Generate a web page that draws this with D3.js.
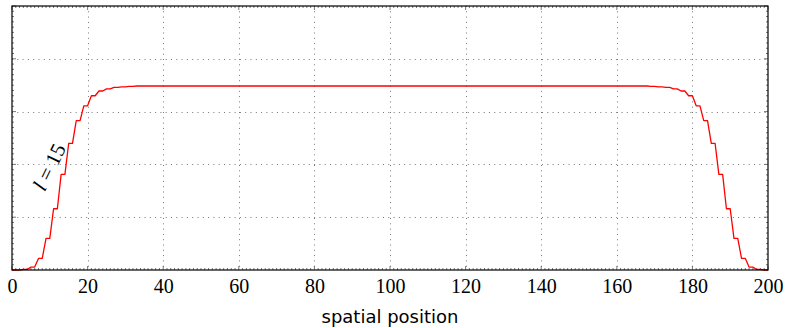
<!DOCTYPE html>
<html>
<head>
<meta charset="utf-8">
<script src="https://cdn.jsdelivr.net/npm/d3@7"></script>
<style>
  body { margin: 0; background: #fff; }
  svg { display: block; }
</style>
</head>
<body>
<div id="plot1"></div>
<script>
'use strict';

// x ticks along the bottom
const xTicks = [0, 20, 40, 60, 80, 100, 120, 140, 160, 180, 200];
// y grid levels (no labels in the reference)
const yTicks = [0, 1, 2, 3, 4, 5];
// step levels: index 0 is x = 0, index k covers x = 2k-1 and x = 2k
const stepLevels = [
    0,
    0, 0.01, 0.055, 0.22, 0.60, 1.16, 1.81, 2.40, 2.83, 3.11,
    3.30, 3.39, 3.43, 3.46, 3.47, 3.478,
    3.485, 3.485, 3.485, 3.485, 3.485, 3.485, 3.485, 3.485, 3.485, 3.485,
    3.485, 3.485, 3.485, 3.485, 3.485, 3.485, 3.485, 3.485, 3.485, 3.485,
    3.485, 3.485, 3.485, 3.485, 3.485, 3.485, 3.485, 3.485, 3.485, 3.485,
    3.485, 3.485, 3.485, 3.485, 3.485, 3.485, 3.485, 3.485, 3.485, 3.485,
    3.485, 3.485, 3.485, 3.485, 3.485, 3.485, 3.485, 3.485, 3.485, 3.485,
    3.485, 3.485, 3.485, 3.485, 3.485, 3.485, 3.485, 3.485, 3.485, 3.485,
    3.485, 3.485, 3.485, 3.485, 3.485, 3.485, 3.485, 3.485,
    3.478, 3.47, 3.46, 3.43, 3.39, 3.30, 3.11, 2.83, 2.40, 1.81,
    1.16, 0.60, 0.22, 0.055, 0.01, 0
];
const curveLabelVar = 'l';
const curveLabelRest = ' = 15';
const xLabel = 'spatial position';

const points = [{x: 0, y: stepLevels[0]}];
stepLevels.slice(1).forEach((v, i) => {
    points.push({x: 2 * i + 1, y: v});
    points.push({x: 2 * i + 2, y: v});
});

const margin = {top: 6, right: 19, bottom: 58, left: 12},
    width = 787 - margin.left - margin.right,
    height = 328 - margin.top - margin.bottom;

const serif = '"Liberation Serif", "DejaVu Serif", serif';

const svg = d3.select('#plot1')
    .append('svg')
        .attr('width', 787)
        .attr('height', 328)
    .append('g')
        .attr('transform', `translate(${margin.left}, ${margin.top})`);

const x = d3.scaleLinear().domain([0, 200]).range([0, width]);
const y = d3.scaleLinear().domain([0, 5]).range([height, 0]);

// dotted grid
svg.append('g')
    .selectAll('line')
    .data(xTicks.slice(1, -1))
    .join('line')
        .attr('x1', d => Math.round(x(d)) + 0.5)
        .attr('x2', d => Math.round(x(d)) + 0.5)
        .attr('y1', 0)
        .attr('y2', height)
        .attr('stroke', '#777')
        .attr('stroke-dasharray', '1,4.3');
svg.append('g')
    .selectAll('line')
    .data(yTicks.slice(1, -1))
    .join('line')
        .attr('x1', 0)
        .attr('x2', width)
        .attr('y1', d => Math.round(y(d)) + 0.5)
        .attr('y2', d => Math.round(y(d)) + 0.5)
        .attr('stroke', '#777')
        .attr('stroke-dasharray', '1,4.3');

// minor ticks, inward
const ticks = svg.append('g').attr('stroke', '#555').attr('stroke-width', 0.8);
d3.range(0, 201, 1).forEach(v => {
    const tl = v % 20 === 0 ? 4 : 2;
    ticks.append('line').attr('x1', x(v)).attr('x2', x(v)).attr('y1', height).attr('y2', height - tl);
    ticks.append('line').attr('x1', x(v)).attr('x2', x(v)).attr('y1', 0).attr('y2', tl);
});
d3.range(0, 5.01, 0.1).forEach(v => {
    const tl = Math.abs(v - Math.round(v)) < 1e-6 ? 4 : 2;
    ticks.append('line').attr('y1', y(v)).attr('y2', y(v)).attr('x1', 0).attr('x2', tl);
    ticks.append('line').attr('y1', y(v)).attr('y2', y(v)).attr('x1', width).attr('x2', width - tl);
});

// curve
svg.append('path')
    .datum(points)
    .attr('fill', 'none')
    .attr('stroke', '#ff0000')
    .attr('stroke-width', 1.3)
    .attr('stroke-linejoin', 'round')
    .attr('d', d3.line().x(d => x(d.x)).y(d => y(d.y)));

// frame
svg.append('rect')
    .attr('x', 0).attr('y', 0)
    .attr('width', width).attr('height', height)
    .attr('fill', 'none')
    .attr('stroke', '#000')
    .attr('stroke-width', 1.2);

// x tick labels
const xAxis = svg.append('g')
    .attr('transform', `translate(0, ${height})`)
    .call(d3.axisBottom(x).tickValues(xTicks).tickSize(0).tickPadding(9));
xAxis.select('.domain').remove();
xAxis.selectAll('text')
    .attr('font-family', serif)
    .attr('font-size', 20)
    .attr('fill', '#000');

// axis title
svg.append('text')
    .attr('x', width / 2)
    .attr('y', height + 53)
    .attr('text-anchor', 'middle')
    .attr('font-family', '"DejaVu Sans", sans-serif')
    .attr('font-size', 18)
    .text(xLabel);

// curve label, rotated along the rise
const lab = svg.append('text')
    .attr('transform', `translate(${49 - margin.left}, ${167 - margin.top}) rotate(-64)`)
    .attr('text-anchor', 'middle')
    .attr('dy', '0.35em')
    .attr('font-family', serif)
    .attr('font-size', 21);
lab.append('tspan').attr('font-family', serif).attr('font-style', 'italic').text(curveLabelVar);
lab.append('tspan').attr('font-family', serif).text(curveLabelRest);
</script>
</body>
</html>
